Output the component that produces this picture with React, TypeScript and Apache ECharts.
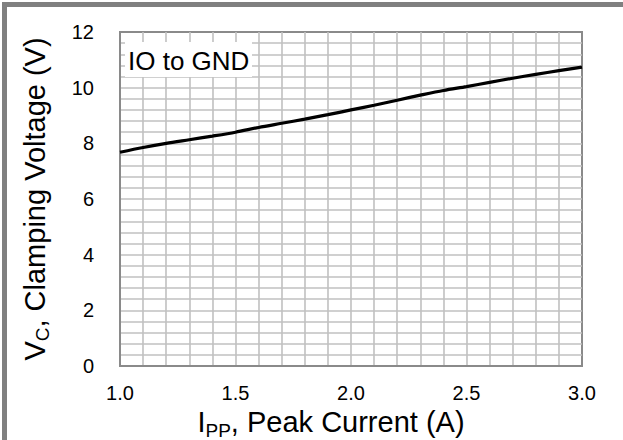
import React, { useEffect, useRef } from "react";
import * as echarts from "echarts";

const currents = [1.0, 1.1, 1.2, 1.3, 1.4, 1.5, 1.6, 1.7, 1.8, 1.9, 2.0, 2.1, 2.2, 2.3, 2.4, 2.5, 2.6, 2.7, 2.8, 2.9, 3.0];
const clampVoltage = [7.68, 7.85, 8.0, 8.13, 8.26, 8.4, 8.57, 8.72, 8.87, 9.03, 9.2, 9.37, 9.55, 9.73, 9.9, 10.04, 10.19, 10.34, 10.48, 10.61, 10.74];
const xTickLabels = ["1.0", "1.5", "2.0", "2.5", "3.0"];
const yTickLabels = ["0", "2", "4", "6", "8", "10", "12"];
const seriesLabel = "IO to GND";

const FONT = "'Liberation Sans', Arial, sans-serif";

export default function App() {
  const ref = useRef<HTMLDivElement>(null);
  useEffect(() => {
    if (!ref.current) return;
    const chart = echarts.init(ref.current, null, { renderer: "svg" });
    const near = (a: number, b: number) => Math.abs(a - b) < 1e-6;
    chart.setOption({
      animation: false,
      backgroundColor: "#ffffff",
      grid: {
        left: 120,
        right: 41,
        top: 32,
        bottom: 74,
        show: true,
        borderColor: "#8a8a8a",
        borderWidth: 2,
        backgroundColor: "#ffffff",
        containLabel: false,
        outerBoundsMode: "none",
      },
      xAxis: {
        type: "value",
        min: 1.0,
        max: 3.0,
        interval: 0.1,
        name: "{m|I}{s|PP}{m|, Peak Current (A)}",
        nameLocation: "middle",
        nameGap: 31,
        nameTextStyle: {
          fontFamily: FONT,
          color: "#000",
          padding: [0, 40, 0, 0],
          rich: {
            m: { fontSize: 29, fontFamily: FONT, color: "#000" },
            s: { fontSize: 19, fontFamily: FONT, color: "#000", padding: [16, 0, 0, 0] },
          },
        },
        axisLine: { show: true, lineStyle: { color: "#8a8a8a", width: 2 } },
        axisTick: { show: false },
        axisLabel: {
          margin: 17,
          fontSize: 20,
          fontFamily: FONT,
          color: "#000",
          showMinLabel: true,
          showMaxLabel: true,
          formatter: (v: number) => {
            const found = xTickLabels.find((t) => near(parseFloat(t), v));
            return found ?? "";
          },
        },
        splitLine: {
          show: true,
          showMinLine: false,
          showMaxLine: false,
          lineStyle: { color: "#c0c0c0", width: 1.6 },
        },
      },
      yAxis: {
        type: "value",
        min: 0,
        max: 12,
        interval: 0.4,
        name: "{m|V}{s|C}{m|, Clamping Voltage (V)}",
        nameLocation: "middle",
        nameRotate: 90,
        nameGap: 68,
        nameTextStyle: {
          fontFamily: FONT,
          color: "#000",
          rich: {
            m: { fontSize: 29, fontFamily: FONT, color: "#000" },
            s: { fontSize: 19, fontFamily: FONT, color: "#000", padding: [16, 0, 0, 0] },
          },
        },
        axisLine: { show: true, lineStyle: { color: "#8a8a8a", width: 2 } },
        axisTick: { show: false },
        axisLabel: {
          margin: 26,
          fontSize: 20,
          fontFamily: FONT,
          color: "#000",
          formatter: (v: number) => {
            const found = yTickLabels.find((t) => near(parseFloat(t), v));
            return found ?? "";
          },
        },
        splitLine: {
          show: true,
          showMinLine: false,
          showMaxLine: false,
          lineStyle: { color: "#c0c0c0", width: 1.6 },
        },
      },
      series: [
        {
          type: "line",
          name: seriesLabel,
          data: currents.map((c, i) => [c, clampVoltage[i]]),
          showSymbol: false,
          smooth: 0.3,
          lineStyle: { color: "#000", width: 3.2 },
          z: 5,
        },
      ],
      graphic: [
        { type: "rect", left: 2, top: 2, shape: { width: 5, height: 438 }, style: { fill: "#808080" }, z: 10 },
        { type: "rect", left: 2, top: 2, shape: { width: 621, height: 5 }, style: { fill: "#808080" }, z: 10 },
        { type: "rect", left: 125, top: 42, shape: { width: 127, height: 35 }, style: { fill: "#ffffff" }, z: 10 },
        {
          type: "text",
          left: 128,
          top: 48,
          style: { text: seriesLabel, font: `26px ${FONT}`, fill: "#000" },
          z: 11,
        },
      ],
    });
    return () => chart.dispose();
  }, []);
  return <div ref={ref} style={{ position: "fixed", left: 0, top: 0, width: 623, height: 440 }} />;
}
